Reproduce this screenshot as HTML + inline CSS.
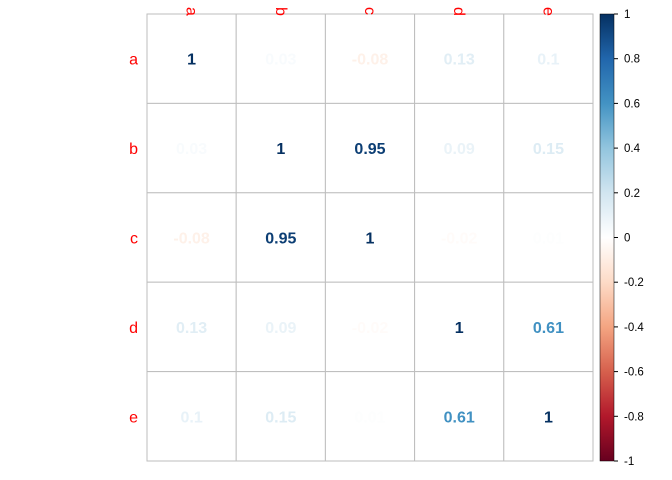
<!DOCTYPE html>
<html><head><meta charset="utf-8"><style>
html,body{margin:0;padding:0;background:#fff;}
svg{display:block;font-family:"Liberation Sans",Arial,sans-serif;}
</style></head><body>
<svg id="chart" width="672" height="480" viewBox="0 0 672 480" xmlns="http://www.w3.org/2000/svg">
<defs><linearGradient id="cbg" x1="0" y1="1" x2="0" y2="0">
<stop offset="0" stop-color="#67001F"/><stop offset="0.1" stop-color="#B2182B"/><stop offset="0.2" stop-color="#D6604D"/><stop offset="0.3" stop-color="#F4A582"/><stop offset="0.4" stop-color="#FDDBC7"/><stop offset="0.5" stop-color="#FFFFFF"/><stop offset="0.6" stop-color="#D1E5F0"/><stop offset="0.7" stop-color="#92C5DE"/><stop offset="0.8" stop-color="#4393C3"/><stop offset="0.9" stop-color="#2166AC"/><stop offset="1" stop-color="#053061"/>
</linearGradient></defs>
</svg>
<script>
const labels = ["a","b","c","d","e"];
const rowA = [1, 0.03, -0.08, 0.13, 0.1];
const rowB = [0.03, 1, 0.95, 0.09, 0.15];
const rowC = [-0.08, 0.95, 1, -0.02, 0.01];
const rowD = [0.13, 0.09, -0.02, 1, 0.61];
const rowE = [0.1, 0.15, 0.01, 0.61, 1];
const barTicks = [1,0.8,0.6,0.4,0.2,0,-0.2,-0.4,-0.6,-0.8,-1];
const rows = [rowA,rowB,rowC,rowD,rowE];

const svg = document.getElementById('chart');
const NS = "http://www.w3.org/2000/svg";
const X0=147, X1=593, Y0=14, Y1=461;
const n = labels.length, cw=(X1-X0)/n, ch=(Y1-Y0)/n;
const pal=["#67001F","#B2182B","#D6604D","#F4A582","#FDDBC7","#FFFFFF","#D1E5F0","#92C5DE","#4393C3","#2166AC","#053061"];
function hx(c){return [1,3,5].map(i=>parseInt(c.substr(i,2),16));}
function colorOf(v){
  const t=(v+1)/2*(pal.length-1); const i=Math.min(Math.floor(t),pal.length-2), f=t-i;
  const a=hx(pal[i]), b=hx(pal[i+1]);
  return 'rgb('+a.map((x,k)=>Math.round(x+(b[k]-x)*f)).join(',')+')';
}
function mk(tag,attrs){const e=document.createElementNS(NS,tag);for(const k in attrs)e.setAttribute(k,attrs[k]);svg.appendChild(e);return e;}
const xc=j=>X0+cw*(j+0.5), yc=i=>Y0+ch*(i+0.5);

rows.forEach((row,i)=>row.forEach((v,j)=>{
  const r=mk('rect',{x:X0+cw*j,y:Y0+ch*i,width:cw,height:ch,fill:'#fff',stroke:'#BEBEBE','stroke-width':1});
  
  
  const t=mk('text',{x:xc(j),y:yc(i)+6,'text-anchor':'middle','font-size':16,'font-weight':'bold',fill:colorOf(v)});
  t.textContent=String(v);
  
  
}));
labels.forEach((l,i)=>{
  const t=mk('text',{x:138,y:yc(i)+6,'text-anchor':'end','font-size':16,fill:'#FF0000'});
  t.textContent=l;
  
  
  const c=mk('text',{x:0,y:0,'font-size':16,fill:'#FF0000',transform:'translate('+(xc(i)-5)+',7) rotate(90)'});
  c.textContent=l;
  
  
});
const cb=mk('rect',{x:600,y:Y0,width:14,height:Y1-Y0,fill:'url(#cbg)',stroke:'#000','stroke-width':0.5});


const cy=v=>Y0+(1-v)/2*(Y1-Y0);
barTicks.forEach(v=>{
  const l=mk('line',{x1:614,x2:618,y1:cy(v),y2:cy(v),stroke:'#000','stroke-width':1});
  
  
  const t=mk('text',{x:624,y:cy(v)+4,'font-size':11.5,fill:'#000'});
  t.textContent=String(v);
  
  
});
</script>
</body></html>
